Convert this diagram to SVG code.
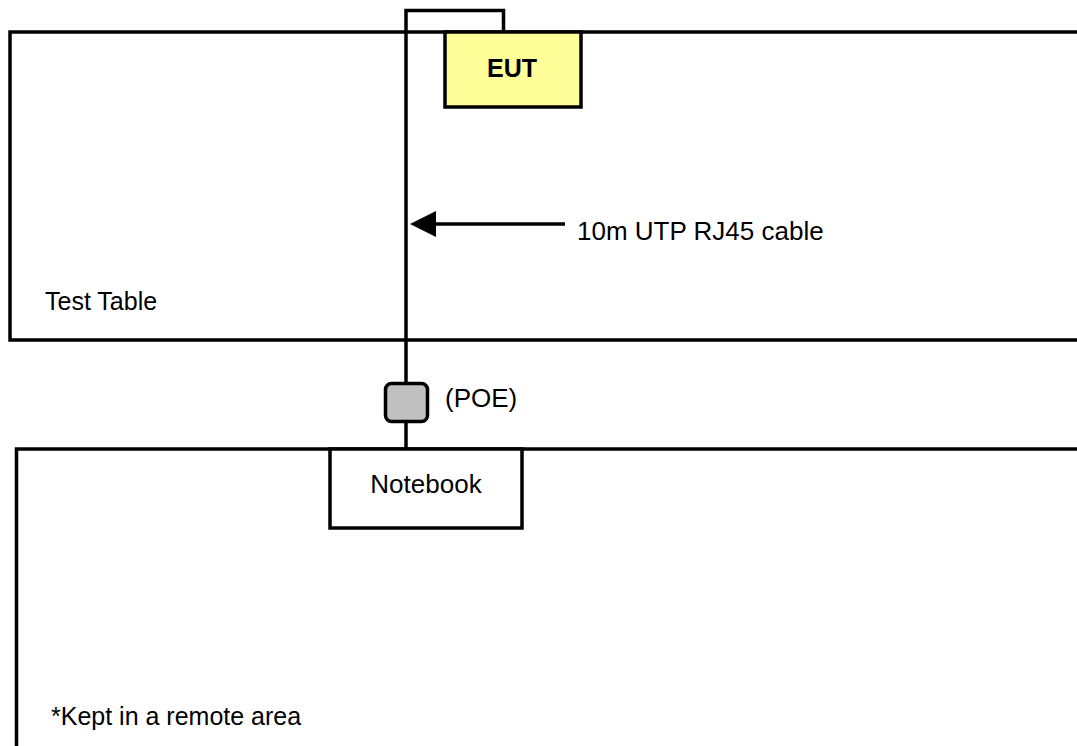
<svg xmlns="http://www.w3.org/2000/svg" width="1077" height="746" viewBox="0 0 1077 746">
<style>
  .box { fill: #ffffff; stroke: #000000; stroke-width: 3.5; }
  .line { fill: none; stroke: #000000; stroke-width: 3.5; }
  .t { font-family: "Liberation Sans", Arial, sans-serif; font-size: 25px; fill: #000000; }
  .l { font-size: 26px; }
  .b { font-weight: bold; }
</style>
<rect width="1077" height="746" fill="#ffffff"/>
<g id="test-table">
  <rect class="box" x="10" y="32" width="1090" height="308"/>
  <text class="t" x="45" y="310">Test Table</text>
</g>
<g id="remote-area">
  <rect class="box" x="16.5" y="449" width="1090" height="320"/>
  <text class="t" x="51" y="725">*Kept in a remote area</text>
</g>
<g id="connectors">
  <polyline class="line" points="406,449 406,10.5 503.5,10.5 503.5,32"/>
  <line class="line" x1="565" y1="224" x2="434" y2="224"/>
  <path d="M410,224 L436,211 L436,237 Z" fill="#000000"/>
</g>
<g id="eut">
  <rect x="445" y="32" width="136" height="75" fill="#FFFF99" stroke="#000000" stroke-width="3.5"/>
  <text class="t b" x="512" y="77" text-anchor="middle">EUT</text>
</g>
<g id="poe">
  <rect x="385.5" y="383.5" width="42" height="38" rx="6" fill="#C0C0C0" stroke="#000000" stroke-width="3.5"/>
  <text class="t l" x="445" y="407">(POE)</text>
</g>
<g id="notebook">
  <rect class="box" x="330" y="449" width="192" height="79"/>
  <text class="t l" x="426" y="493" text-anchor="middle">Notebook</text>
</g>
<g id="cable-label">
  <text class="t l" x="577" y="240">10m UTP RJ45 cable</text>
</g>
</svg>
